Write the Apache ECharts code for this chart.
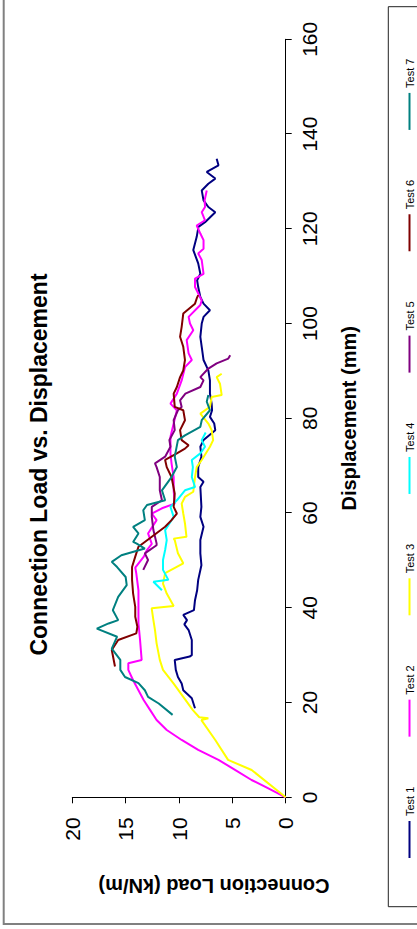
<!DOCTYPE html>
<html>
<head>
<meta charset="utf-8">
<script src="https://cdn.jsdelivr.net/npm/echarts@6/dist/echarts.min.js"></script>
<style>
html,body{margin:0;padding:0;background:#fff;overflow:hidden;width:417px;height:929px;}
#chart{position:absolute;left:0;top:0;width:929px;height:417px;transform-origin:0 0;transform:translate(0,929px) rotate(-90deg);}
</style>
</head>
<body>
<div id="chart"></div>
<script>
// ---- data (displacement mm, connection load kN/m) ----
const seriesNames = ['Test 1','Test 2','Test 3','Test 4','Test 5','Test 6','Test 7'];
const seriesColors = ['#000080','#FF00FF','#FFFF00','#00FFFF','#800080','#800000','#008080'];
const displacementRange = [0, 160, 20];
const loadRange = [0, 20, 5];

const test1 = [[18.8,8.5],[20.9,8.8],[22.6,9.6],[24,9.75],[25.4,10.1],[26.9,10.3],[29,10.4],[29.7,9.0],[30,8.8],[33.2,8.8],[35.3,9.1],[36.5,9.5],[37.4,9.25],[38.5,9.6],[39.5,8.6],[41.6,8.5],[43.7,8.3],[45.9,8.2],[49,7.9],[51.5,8.0],[54.3,8.0],[57.1,7.7],[59.2,8.0],[61.3,7.9],[65.5,8.0],[66.6,7.7],[67.6,8.2],[69.7,8.2],[71.9,7.9],[74,8.0],[75.4,7.7],[77.5,6.6],[78.9,6.7],[80.3,7.1],[81.7,6.9],[83.1,6.94],[85.2,7.1],[88,7.1],[90.1,7.25],[92.3,7.7],[95.1,7.87],[97.2,8.0],[100,7.87],[101.4,7.7],[102.8,7.1],[104.2,7.7],[105.6,8.0],[107.7,8.2],[109.1,8.3],[110.5,8.0],[112.7,8.2],[115.5,8.66],[118.3,8.34],[120.4,8.18],[121.4,7.56],[123.5,6.6],[124.6,7.25],[126,7.7],[128.1,7.87],[129.5,7.25],[130.6,6.6],[132,7.4],[133.4,6.3],[134.8,6.47]];
const test2 = [[0,0],[2.2,1.9],[3.65,3.2],[5.8,4.75],[7.9,6.3],[10,8.2],[12.1,9.75],[14.2,11.15],[16.3,12.1],[18.4,12.7],[20.5,13.3],[22.6,13.8],[24.7,14.3],[26.9,14.75],[28.3,14.75],[29,13.5],[33.2,13.65],[36.7,13.8],[40.2,13.8],[43.7,13.8],[47.2,14.0],[48.5,14.1],[50.8,13.3],[52.2,13.0],[53.5,12.55],[55.7,12.9],[58.5,12.1],[59.9,12.55],[61,11.6],[62,10.4],[64.8,10.5],[67.6,10.5],[70.5,10.7],[72.6,10.8],[76.1,10.8],[78.9,10.5],[81.7,10.2],[83.1,10.8],[85.2,10.2],[88,9.75],[90.8,9.44],[92.3,8.8],[93.7,9.1],[96.5,9.28],[98.6,8.66],[100,8.97],[101.4,9.1],[103.9,8.0],[104.9,7.87],[107.7,8.5],[109.5,8.5],[110.5,7.7],[113.4,7.87],[114.8,8.2],[115.8,7.7],[117.6,7.7],[119,8.0],[120.7,8.34],[121.8,7.56],[123.5,7.87],[124.6,7.56],[126,7.6],[128.1,7.4]];
const test3 = [[0,0],[5.76,3.19],[7.9,5.4],[12.1,6.6],[16.3,7.9],[16.7,7.25],[16.9,8.1],[18.4,8.7],[21.2,9.6],[24,10.5],[26.9,11.5],[29,11.8],[32.5,12.1],[35.3,12.25],[37.4,12.4],[39.9,12.56],[40.4,10.5],[43,11.15],[45.1,11.5],[47.3,11.3],[49.4,9.6],[51.5,10.1],[54.3,10.4],[54.6,10.5],[55,9.3],[57.8,9.44],[59.9,9.6],[62,9.75],[63.4,9.44],[64.5,8.66],[67.6,8.5],[69.7,8.34],[71.2,7.87],[74,7.1],[75.4,6.8],[77.5,6.94],[78.9,7.25],[81,8.0],[82.4,7.1],[84.5,6.94],[84.9,6.0],[87.3,6.16],[88.7,6.47],[89.4,6.0]];
const test4 = [[43.7,11.6],[45.5,12.4],[45.9,11.0],[48,11.5],[50.1,11.5],[52.2,11.3],[54.3,11.15],[56.4,11.3],[59.2,10.5],[61.3,10.8],[62.7,10.2],[64.8,9.44],[65.5,8.5],[67.6,8.8],[69.7,8.7],[71.2,8.8],[72.6,8.0],[74,7.56],[75.4,7.87],[77,7.5]];
const test5 = [[48,13.35],[50.1,12.9],[51.5,13.2],[53.2,12.1],[53.6,12.1],[56.4,12.4],[59.2,12.55],[61.3,12.55],[62.7,11.6],[64.8,11.8],[67.6,11.8],[69.7,12.1],[70.5,12.25],[71.9,11.3],[74,10.8],[75.4,10.9],[77.5,10.4],[79.6,10.5],[81.7,10.1],[82.4,9.75],[83.8,9.9],[85.2,9.4],[86.6,8.0],[88,7.7],[88.7,8.0],[90.5,7.25],[91.6,6.47],[92.6,5.38],[93.3,5.2]];
const test6 = [[27.6,16.0],[31.1,16.3],[33.2,15.7],[34.6,14.0],[36,13.9],[38.1,14.1],[40.2,14.1],[43,14.3],[45.9,14.4],[48.6,14.4],[50.8,14.1],[52.9,13.8],[55,12.55],[57.1,11.3],[58.5,10.7],[59.9,10.2],[61.3,10.5],[64.1,10.4],[67.6,10.7],[69.7,11.15],[71.2,11.3],[72.6,10.2],[73.6,9.44],[74.3,9.1],[75.4,9.75],[77.5,9.9],[79.6,9.44],[81.7,9.6],[82.4,10.4],[85.2,10.5],[86.6,10.2],[88.7,9.9],[90.1,9.6],[92.3,9.44],[95.1,9.6],[97.2,9.9],[99.3,9.75],[102.1,9.6],[104.2,8.5],[105.3,8.34],[106,8.2]];
const test7 = [[17.4,10.6],[19.8,11.9],[21.2,12.9],[22.6,13.2],[24.1,13.8],[25.4,15.06],[26.9,15.5],[29,15.5],[31.4,16.3],[33.9,15.8],[35.6,17.7],[36.7,16.6],[37.4,15.7],[39.5,16.2],[42.3,15.7],[44.8,14.9],[46.5,15.0],[48.6,15.8],[49.7,16.3],[51.1,15.4],[52.5,13.2],[53.6,14.0],[53.9,14.3],[55.7,13.8],[57.1,14.3],[58.5,13.2],[60.6,13.35],[61.7,13.0],[62.7,11.3],[64.8,11.6],[67.6,10.7],[69.7,10.2],[71.9,10.4],[75.4,10.1],[76.4,9.44],[78.2,8.0],[79.6,7.87],[81.7,7.1],[83.5,7.4],[84.9,7.25]];

const allData = [test1, test2, test3, test4, test5, test6, test7];
const FF = '"Liberation Sans", Arial, sans-serif';

const chart = echarts.init(document.getElementById('chart'), null, {renderer: 'svg', width: 929, height: 417});
chart.setOption({
  animation: false,
  backgroundColor: '#ffffff',
  title: {
    text: 'Connection Load vs. Displacement',
    left: 'center', top: 22,
    textStyle: {fontFamily: FF, fontSize: 23, fontWeight: 'bold', color: '#000'}
  },
  grid: {left: 131.7, right: 39.3, top: 72.3, bottom: 131.3, containLabel: false},
  xAxis: {
    type: 'value', min: displacementRange[0], max: displacementRange[1], interval: displacementRange[2],
    name: 'Displacement (mm)', nameLocation: 'middle', nameGap: 53,
    nameTextStyle: {fontFamily: FF, fontSize: 20, fontWeight: 'bold', color: '#000'},
    axisLine: {show: true, onZero: false, lineStyle: {color: '#000', width: 1}},
    axisTick: {show: true, inside: false, length: 6, lineStyle: {color: '#000', width: 1}},
    axisLabel: {margin: 13, fontSize: 21, color: '#000', fontFamily: FF, hideOverlap: false},
    splitLine: {show: false}
  },
  yAxis: {
    type: 'value', min: loadRange[0], max: loadRange[1], interval: loadRange[2],
    axisLine: {show: true, onZero: false, lineStyle: {color: '#000', width: 1}},
    axisTick: {show: true, inside: false, length: 6, lineStyle: {color: '#000', width: 1}},
    axisLabel: {margin: 20, fontSize: 21, color: '#000', fontFamily: FF, hideOverlap: false},
    splitLine: {show: false}
  },
  legend: {
    data: seriesNames.map(n => ({name: n, icon: 'rect'})),
    left: 71, top: 404, padding: 0,
    itemWidth: 37, itemHeight: 2, itemGap: 50,
    textStyle: {fontFamily: FF, fontSize: 11, color: '#000'}
  },
  graphic: [
    {type: 'rect', shape: {x: 5, y: 3.7, width: 1200, height: 700}, style: {fill: 'none', stroke: '#808080', lineWidth: 2}, silent: true},
    {type: 'rect', shape: {x: 22.3, y: 388.3, width: 900, height: 100}, style: {fill: 'none', stroke: '#222', lineWidth: 1}, silent: true},
    {type: 'text', x: 43, y: 214, rotation: Math.PI / 2,
     style: {text: 'Connection Load (kN/m)', fontFamily: FF, fontSize: 20, fontWeight: 'bold', fill: '#000', align: 'center', verticalAlign: 'middle'}}
  ],
  series: seriesNames.map((n, i) => ({
    name: n, type: 'line', data: allData[i],
    showSymbol: false, symbol: 'none', smooth: false,
    lineStyle: {color: seriesColors[i], width: 2},
    itemStyle: {color: seriesColors[i]},
    emphasis: {disabled: true}
  }))
});
</script>
</body>
</html>
